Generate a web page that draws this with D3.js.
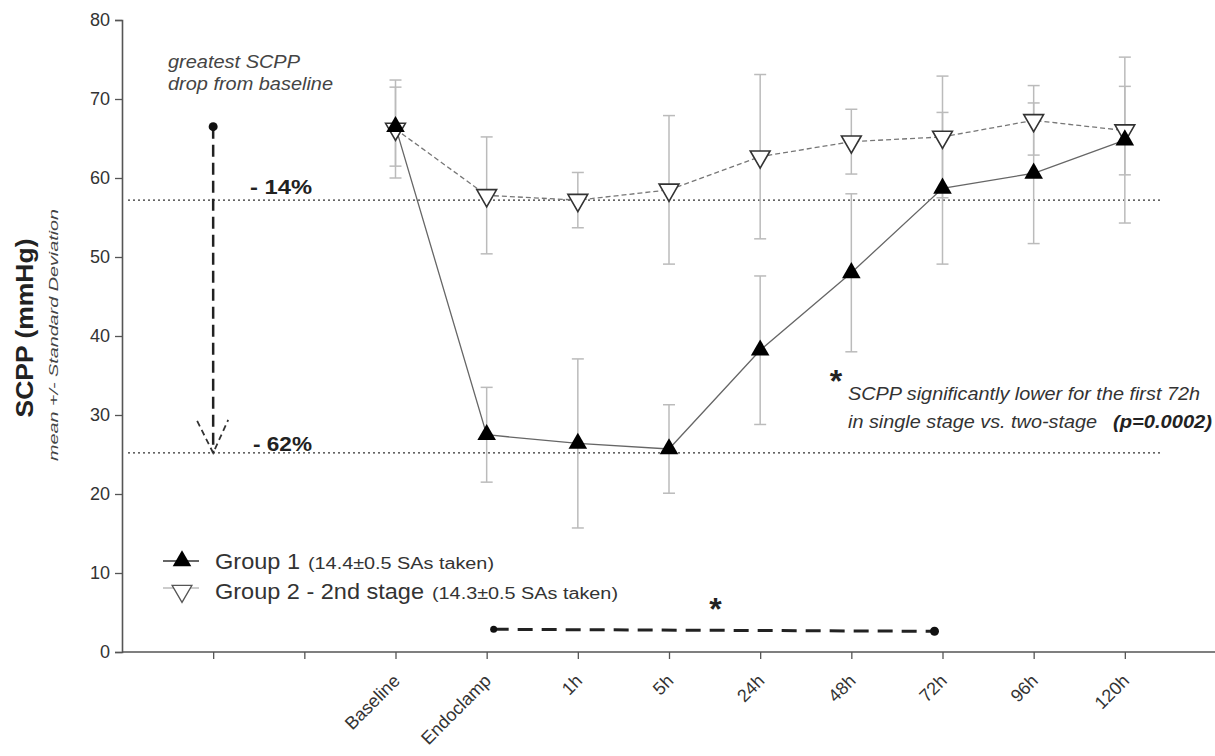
<!DOCTYPE html>
<html><head><meta charset="utf-8">
<script src="https://cdn.jsdelivr.net/npm/d3@7"></script>
<style>
body{margin:0;background:#fff;}
text{font-family:"Liberation Sans",Arial,Helvetica,sans-serif;}
</style></head>
<body><svg id="c" width="1215" height="756"></svg>
<script>
// ---- data ----
const blankSlots = ["_a", "_b"];
const timepoints = ["Baseline","Endoclamp","1h","5h","24h","48h","72h","96h","120h"];
const xTickLabels = ["", "", "Baseline","Endoclamp","1h","5h","24h","48h","72h","96h","120h"];
const g1Mean = [66.5, 27.5, 26.4, 25.7, 38.2, 48.0, 58.7, 60.6, 64.8];
const g1SD   = [5.0, 6.0, 10.7, 5.6, 9.4, 10.0, 9.6, 8.9, 10.5];
const g2Mean = [66.2, 57.8, 57.2, 58.5, 62.7, 64.6, 65.2, 67.3, 66.0];
const g2SD   = [6.2, 7.4, 3.5, 9.4, 10.4, 4.1, 7.7, 4.4, 5.6];
const yTicks = [0,10,20,30,40,50,60,70,80];
const refLevels = [57.2, 25.2];
const refLabels = ["- 14%", "- 62%"];
const dropFrom = 66.5, dropTo = 25.2;
const sigFrom = "Endoclamp", sigTo = "72h", sigLevel = 3.0;
const legendNames = ["Group 1", "Group 2 - 2nd stage"];
const legendNotes = ["(14.4±0.5 SAs taken)", "(14.3±0.5 SAs taken)"];

// ---- layout ----
const svg = d3.select("#c");
const x = d3.scalePoint().domain(blankSlots.concat(timepoints)).range([122, 1216]).padding(1);
const y = d3.scaleLinear().domain([0, 80]).range([652, 20]);

function txt(px, py, s, opts){
  const t = svg.append("text").attr("x",px).attr("y",py).text(s)
    .attr("font-size",opts.size).attr("fill",opts.fill||"#333");
  if(opts.italic) t.attr("font-style","italic");
  if(opts.bold) t.attr("font-weight","bold");
  if(opts.len) t.attr("textLength",opts.len).attr("lengthAdjust","spacingAndGlyphs");
  if(opts.anchor) t.attr("text-anchor",opts.anchor);
  if(opts.transform) t.attr("transform",opts.transform);
  return t;
}

// axes
const yAxis = svg.append("g").attr("transform","translate(122,0)")
  .call(d3.axisLeft(y).tickValues(yTicks).tickSize(7).tickPadding(5));
yAxis.select(".domain").attr("stroke","#555").attr("stroke-width",1.6);
yAxis.selectAll(".tick line").attr("stroke","#555").attr("stroke-width",1.3);
yAxis.selectAll(".tick text").attr("font-size",18).attr("fill","#333");

const xAxis = svg.append("g").attr("transform","translate(0,652)")
  .call(d3.axisBottom(x).tickSize(7).tickSizeOuter(0).tickFormat((d,i)=>xTickLabels[i]));
xAxis.select(".domain").attr("d","M122,0H1215").attr("stroke","#555").attr("stroke-width",1.6);
xAxis.selectAll(".tick line").attr("stroke","#555").attr("stroke-width",1.3);
xAxis.selectAll(".tick text").attr("font-size",18).attr("fill","#333")
  .attr("text-anchor","end").attr("dy",0).attr("y",0)
  .attr("transform","translate(5,30) rotate(-45)");

// y titles
txt(0,0,"SCPP (mmHg)",{size:23,bold:true,fill:"#222",anchor:"middle",len:179,transform:"translate(33,328) rotate(-90)"});
txt(0,0,"mean +/- Standard Deviation",{size:13,italic:true,fill:"#444",anchor:"middle",len:252,transform:"translate(58,335) rotate(-90)"});

// reference lines
refLevels.forEach((v,i)=>{
  svg.append("line").attr("x1",128).attr("x2",1160).attr("y1",y(v)).attr("y2",y(v))
    .attr("stroke","#333").attr("stroke-width",1.3).attr("stroke-dasharray","2,3");
});
txt(250, y(refLevels[0])-6, refLabels[0], {size:20,bold:true,fill:"#222",len:62});
txt(253, y(refLevels[1])-2, refLabels[1], {size:20,bold:true,fill:"#222",len:59});

// drop arrow
const ax = x("_a");
svg.append("line").attr("x1",ax).attr("x2",ax).attr("y1",y(dropFrom)).attr("y2",y(dropTo))
  .attr("stroke","#222").attr("stroke-width",2.5).attr("stroke-dasharray","12,6");
svg.append("circle").attr("cx",ax).attr("cy",y(dropFrom)).attr("r",4.5).attr("fill","#111");
svg.append("path").attr("d",`M${ax-16},${y(dropTo)-32}L${ax},${y(dropTo)}L${ax+15},${y(dropTo)-33}`)
  .attr("fill","none").attr("stroke","#333").attr("stroke-width",1.8).attr("stroke-dasharray","6,4");
txt(168, 68, "greatest SCPP", {size:18,italic:true,fill:"#444",len:132});
txt(168, 90, "drop from baseline", {size:18,italic:true,fill:"#444",len:165});

// significance bracket
const bx1 = x(sigFrom)+7, bx2 = x(sigTo)-8;
svg.append("line").attr("x1",bx1).attr("x2",bx2).attr("y1",y(sigLevel)+1).attr("y2",y(sigLevel)+3)
  .attr("stroke","#222").attr("stroke-width",3).attr("stroke-dasharray","15,9");
svg.append("circle").attr("cx",bx1).attr("cy",y(sigLevel)+1).attr("r",3.5).attr("fill","#111");
svg.append("circle").attr("cx",bx2).attr("cy",y(sigLevel)+3).attr("r",4.5).attr("fill","#111");
txt((x("5h")+x("24h"))/2+1, 620, "*", {size:32,bold:true,fill:"#222",anchor:"middle"});

// right annotation
txt(836, 392, "*", {size:32,bold:true,fill:"#222",anchor:"middle"});
txt(848, 400, "SCPP significantly lower for the first 72h", {size:18,italic:true,fill:"#333",len:352});
txt(848, 428, "in single stage vs. two-stage", {size:18,italic:true,fill:"#333",len:249});
txt(1113, 428, "(p=0.0002)", {size:18,italic:true,bold:true,fill:"#222",len:99});

// error bars
function errBars(means, sds){
  const g = svg.append("g").attr("stroke","#bbb").attr("stroke-width",1.5);
  timepoints.forEach((t,i)=>{
    const cx = x(t), top = y(means[i]+sds[i]), bot = y(means[i]-sds[i]);
    g.append("line").attr("x1",cx).attr("x2",cx).attr("y1",top).attr("y2",bot);
    g.append("line").attr("x1",cx-6).attr("x2",cx+6).attr("y1",top).attr("y2",top);
    g.append("line").attr("x1",cx-6).attr("x2",cx+6).attr("y1",bot).attr("y2",bot);
  });
}
errBars(g2Mean, g2SD);
errBars(g1Mean, g1SD);

// lines
const line = d3.line().x((d,i)=>x(timepoints[i])).y(d=>y(d));
svg.append("path").datum(g2Mean).attr("d",line).attr("fill","none").attr("stroke","#777").attr("stroke-width",1.3).attr("stroke-dasharray","5,3");
svg.append("path").datum(g1Mean).attr("d",line).attr("fill","none").attr("stroke","#666").attr("stroke-width",1.3);

// markers
const tri = d3.symbol().type(d3.symbolTriangle).size(150);
const tri2 = d3.symbol().type(d3.symbolTriangle).size(170);
svg.append("g").selectAll("path").data(g2Mean).join("path")
  .attr("d",tri2).attr("transform",(d,i)=>`translate(${x(timepoints[i])},${y(d)}) rotate(180)`)
  .attr("fill","#fff").attr("stroke","#333").attr("stroke-width",1.6);
svg.append("g").selectAll("path").data(g1Mean).join("path")
  .attr("d",tri).attr("transform",(d,i)=>`translate(${x(timepoints[i])},${y(d)})`)
  .attr("fill","#000");

// legend
const ly = [561, 591];
svg.append("line").attr("x1",163).attr("x2",199).attr("y1",ly[0]).attr("y2",ly[0]).attr("stroke","#333").attr("stroke-width",1.3);
svg.append("path").attr("d",tri).attr("transform",`translate(182,${ly[0]})`).attr("fill","#000");
svg.append("line").attr("x1",163).attr("x2",199).attr("y1",ly[1]-3).attr("y2",ly[1]-3).attr("stroke","#bbb").attr("stroke-width",1.3);
svg.append("path").attr("d",tri2).attr("transform",`translate(182,${ly[1]}) rotate(180)`).attr("fill","#fff").attr("stroke","#555").attr("stroke-width",1.3);
const nameLen = [85, 209], noteX = [308, 432];
legendNames.forEach((n,i)=>{
  txt(215, ly[i]+8, n, {size:22,fill:"#333",len:nameLen[i]});
  txt(noteX[i], ly[i]+8, legendNotes[i], {size:16,fill:"#333",len:186});
});
</script></body></html>
